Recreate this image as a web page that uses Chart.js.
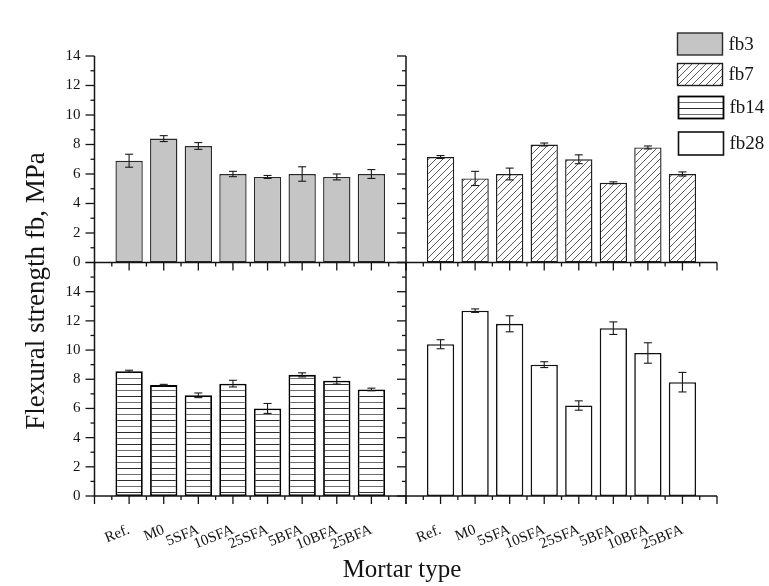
<!DOCTYPE html>
<html><head><meta charset="utf-8">
<script src="https://cdn.jsdelivr.net/npm/chart.js@4.4.1/dist/chart.umd.min.js"></script>
<style>
html,body{margin:0;padding:0;background:#fff;}
#wrap{position:relative;width:769px;height:586px;overflow:hidden;}
canvas{position:absolute;left:0;top:0;}
</style></head><body>
<div id="wrap">
<canvas id="c0" width="769" height="586"></canvas>
<canvas id="c1" width="769" height="586"></canvas>
<canvas id="c2" width="769" height="586"></canvas>
<canvas id="c3" width="769" height="586"></canvas>
</div>
<script>
// ---- data ----
const categories = ['Ref.', 'M0', '5SFA', '10SFA', '25SFA', '5BFA', '10BFA', '25BFA'];
const fb3     = [6.9, 8.4, 7.9, 6.0, 5.8, 6.0, 5.8, 6.0];
const fb3Err  = [0.44, 0.2, 0.23, 0.18, 0.1, 0.49, 0.2, 0.3];
const fb7     = [7.15, 5.7, 6.0, 8.0, 7.0, 5.4, 7.8, 6.0];
const fb7Err  = [0.1, 0.48, 0.4, 0.1, 0.3, 0.07, 0.1, 0.14];
const fb14    = [8.55, 7.6, 6.9, 7.7, 6.0, 8.3, 7.9, 7.3];
const fb14Err = [0.07, 0.05, 0.16, 0.23, 0.34, 0.14, 0.23, 0.09];
const fb28    = [10.4, 12.7, 11.8, 9.0, 6.2, 11.5, 9.8, 7.8];
const fb28Err = [0.31, 0.12, 0.55, 0.2, 0.32, 0.43, 0.7, 0.67];
const yTickLabels = ['0', '2', '4', '6', '8', '10', '12', '14'];
const seriesNames = ['fb3', 'fb7', 'fb14', 'fb28'];
const yTitle = 'Flexural strength fb, MPa';
const xTitle = 'Mortar type';

// ---- layout ----
const W = 769, H = 586;
const XL = 94.5, XM = 406, XR = 717;
const YT = 56, YM = 262.5, YB = 496;
const SERIF = '"Liberation Serif", "Times New Roman", serif';
const INK = '#141414';

// ---- patterns ----
function hatchPattern() {
  const s = 7, c = document.createElement('canvas'); c.width = s; c.height = s;
  const g = c.getContext('2d');
  g.fillStyle = '#fff'; g.fillRect(0, 0, s, s);
  g.strokeStyle = '#4a4a4a'; g.lineWidth = 0.9;
  g.beginPath();
  g.moveTo(0, s); g.lineTo(s, 0);
  g.moveTo(-1, 1); g.lineTo(1, -1);
  g.moveTo(s - 1, s + 1); g.lineTo(s + 1, s - 1);
  g.stroke();
  return g.createPattern(c, 'repeat');
}
function linePattern() {
  const c = document.createElement('canvas'); c.width = 8; c.height = 12;
  const g = c.getContext('2d');
  g.fillStyle = '#fff'; g.fillRect(0, 0, 8, 12);
  g.fillStyle = '#2e2e2e'; g.fillRect(0, 0, 8, 1);
  g.fillStyle = '#6e6e6e'; g.fillRect(0, 6, 8, 1);
  return g.createPattern(c, 'repeat');
}
const styles = [
  { fill: '#c5c5c5', border: '#2a2a2a', bw: 1.4 },
  { fill: hatchPattern(), border: '#1e1e1e', bw: 1.4 },
  { fill: linePattern(), border: '#000', bw: 1.8 },
  { fill: '#ffffff', border: '#111', bw: 1.6 }
];

function line(ctx, x1, y1, x2, y2) { ctx.beginPath(); ctx.moveTo(x1, y1); ctx.lineTo(x2, y2); ctx.stroke(); }

const panelPlugin = {
  id: 'panel',
  afterDatasetsDraw(chart, args, o) {
    const { ctx, chartArea: a, scales: { x, y } } = chart;
    ctx.save();
    // error bars
    ctx.strokeStyle = '#1a1a1a'; ctx.lineWidth = 1.1;
    o.values.forEach((v, i) => {
      const e = o.errs[i];
      const px = x.getPixelForValue(i + 1);
      const yt = y.getPixelForValue(v + e), yb = y.getPixelForValue(v - e);
      line(ctx, px, yt, px, yb);
      line(ctx, px - 4, yt, px + 4, yt);
      line(ctx, px - 4, yb, px + 4, yb);
    });
    // axes
    ctx.strokeStyle = INK; ctx.lineWidth = 1.5;
    line(ctx, a.left, a.top, a.left, a.bottom);
    line(ctx, a.left - 0.7, a.bottom, a.right, a.bottom);
    ctx.lineWidth = 1.3;
    // x ticks (major at integer positions, minor at halves)
    for (let k = 0; k <= 18; k++) {
      const px = x.getPixelForValue(k / 2);
      line(ctx, px, a.bottom, px, a.bottom + (k % 2 === 0 ? 8 : 4));
    }
    // y ticks pointing left
    for (let v = 0; v <= o.yMax; v++) {
      const py = y.getPixelForValue(v);
      line(ctx, a.left - (v % 2 === 0 ? 9 : 4), py, a.left, py);
    }
    ctx.restore();
  },
  afterDraw(chart, args, o) {
    if (o.legend) drawLegend(chart.ctx);
    if (o.titles) drawTitles(chart.ctx);
  }
};

function drawLegend(ctx) {
  const boxes = [[677.5, 33, 45, 22], [677.5, 63.5, 45, 22], [678.5, 96.5, 45, 22], [678.5, 132, 45, 23]];
  ctx.save();
  boxes.forEach((b, i) => {
    const st = styles[i];
    ctx.fillStyle = st.fill; ctx.fillRect(b[0], b[1], b[2], b[3]);
    ctx.strokeStyle = st.border; ctx.lineWidth = st.bw;
    ctx.strokeRect(b[0], b[1], b[2], b[3]);
    ctx.fillStyle = INK; ctx.font = '19px ' + SERIF;
    ctx.textAlign = 'left'; ctx.textBaseline = 'middle';
    ctx.fillText(seriesNames[i], b[0] + 51, b[1] + b[3] / 2 + 1);
  });
  ctx.restore();
}
function drawTitles(ctx) {
  ctx.save();
  ctx.fillStyle = INK; ctx.font = '25px ' + SERIF;
  ctx.textAlign = 'center'; ctx.textBaseline = 'alphabetic';
  ctx.fillText(xTitle, 402, 577);
  ctx.font = '27px ' + SERIF;
  ctx.translate(44, 291); ctx.rotate(-Math.PI / 2);
  ctx.fillText(yTitle, 0, 0);
  ctx.restore();
}

function makePanel(id, values, errs, si, box, yMax, showY, showX, extra) {
  const st = styles[si];
  return new Chart(document.getElementById(id), {
    type: 'bar',
    data: {
      labels: ['', ...categories, ''],
      datasets: [{
        label: seriesNames[si],
        data: [null, ...values, null],
        backgroundColor: st.fill, borderColor: st.border, borderWidth: st.bw,
        borderSkipped: false, barPercentage: 0.79, categoryPercentage: 1
      }]
    },
    options: {
      responsive: false, animation: false, devicePixelRatio: 1,
      layout: { padding: { left: 0, top: box.t, right: W - box.r, bottom: 0 } },
      plugins: {
        legend: { display: false }, tooltip: { enabled: false },
        panel: Object.assign({ values, errs, yMax }, extra || {})
      },
      scales: {
        x: {
          type: 'category', offset: false,
          grid: { display: false, drawTicks: true, tickLength: 9 },
          border: { display: false },
          ticks: { display: showX, autoSkip: false, minRotation: 22, maxRotation: 22, padding: 16,
                   color: INK, font: { family: SERIF, size: 15 } },
          afterFit: s => { s.height = H - box.b; }
        },
        y: {
          min: 0, max: yMax,
          grid: { display: false, drawTicks: true, tickLength: 9 },
          border: { display: false },
          ticks: { display: showY, stepSize: 2, padding: 5, color: INK, font: { family: SERIF, size: 15 },
                   callback: v => { const i = yTickLabels.indexOf(String(v)); return i >= 0 ? yTickLabels[i] : ''; } },
          afterFit: s => { s.width = box.l; }
        }
      }
    },
    plugins: [panelPlugin]
  });
}

makePanel('c0', fb3, fb3Err, 0, { l: XL, r: XM, t: YT, b: YM }, 14, true, false, { titles: true });
makePanel('c1', fb7, fb7Err, 1, { l: XM, r: XR, t: YT, b: YM }, 14, false, false, { legend: true });
makePanel('c2', fb14, fb14Err, 2, { l: XL, r: XM, t: YM, b: YB }, 16, true, true);
makePanel('c3', fb28, fb28Err, 3, { l: XM, r: XR, t: YM, b: YB }, 16, false, true);
</script>
</body></html>
